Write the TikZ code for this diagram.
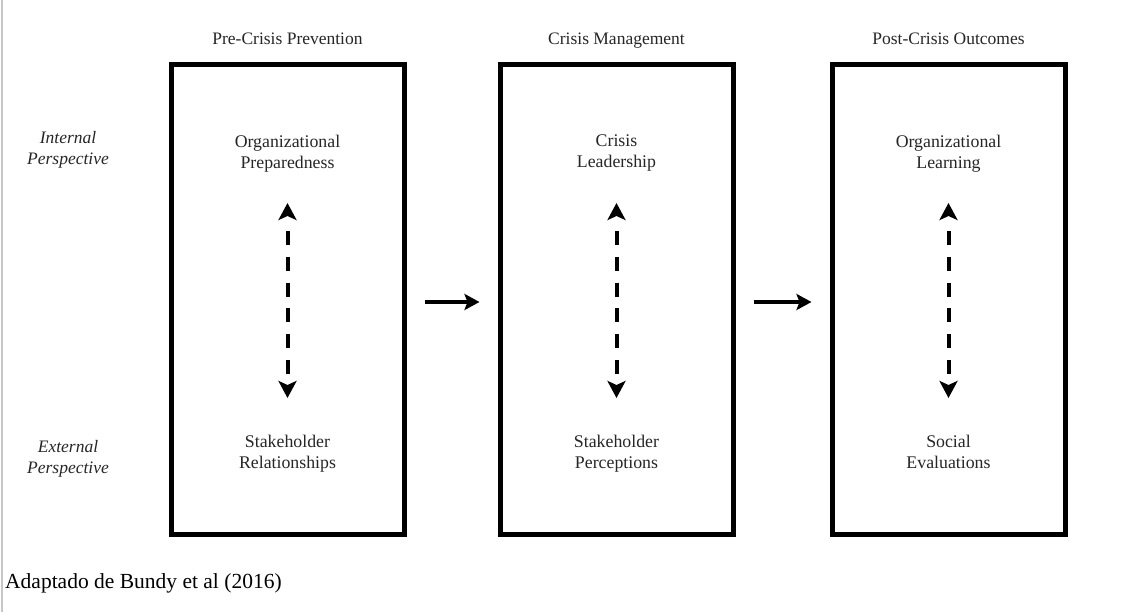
\documentclass[tikz,border=0pt]{standalone}
\usepackage{fontspec}
\setmainfont{Liberation Serif}
\usetikzlibrary{arrows.meta}
\begin{document}
\begin{tikzpicture}[x=1pt,y=-1pt,
  stage/.style={draw=black, line width=5pt, minimum width=233pt, minimum height=470pt, inner sep=0pt},
  heading/.style={font=\fontsize{17.5}{21}\selectfont, text=black!85, anchor=base, inner sep=0pt},
  factor/.style={font=\fontsize{17.8}{21}\selectfont, text=black!85, align=center, anchor=north, inner sep=0pt},
  side/.style={font=\fontsize{17.5}{21}\selectfont\itshape, text=black!85, align=center, anchor=north, inner sep=0pt},
  link/.style={line width=4pt, -{Stealth[length=15pt,width=16pt,inset=3pt]}, shorten <=18pt, shorten >=18pt},
  twoway/.style={line width=4pt,
    dash pattern=on 0pt off 16pt on 14pt off 11.8pt on 14pt off 11.8pt on 14pt off 11.8pt
      on 14pt off 11.8pt on 14pt off 11.8pt on 14pt off 40pt,
    {Stealth[length=17pt,width=18pt,inset=4pt]}-{Stealth[length=17pt,width=18pt,inset=4pt]}}
]
\useasboundingbox (0,0) rectangle (1122,612);
\fill[white] (0,0) rectangle (1122,612);
% page margin rule on the left
\draw[black!22, line width=2pt] (2,0) -- (2,612);

% the three stages
\node[stage] (b1) at (287.5,299.5) {};
\node[stage] (b2) at (616.5,299.5) {};
\node[stage] (b3) at (948.5,299.5) {};

\node[heading] (h1) at (287.5,45) {Pre-Crisis Prevention};
\node[heading] (h2) at (616.5,45) {Crisis Management};
\node[heading] (h3) at (948.5,45) {Post-Crisis Outcomes};

% perspective labels
\node[side] (ip) at (68,131.5) {Internal\\Perspective};
\node[side] (ep) at (68,440) {External\\Perspective};

% factors inside each stage
\node[factor] (o1) at (287.5,135) {Organizational\\Preparedness};
\node[factor] (s1) at (287.5,435) {Stakeholder\\Relationships};
\node[factor] (o2) at (616.5,135) {Crisis\\Leadership};
\node[factor] (s2) at (616.5,435) {Stakeholder\\Perceptions};
\node[factor] (o3) at (948.5,135) {Organizational\\Learning};
\node[factor] (s3) at (948.5,435) {Social\\Evaluations};

% ends of the two-way links
\coordinate (t1) at (287.5,203); \coordinate (u1) at (287.5,398);
\coordinate (t2) at (616.5,203); \coordinate (u2) at (616.5,398);
\coordinate (t3) at (948.5,203); \coordinate (u3) at (948.5,398);

\draw[twoway] (t1) -- (u1);
\draw[twoway] (t2) -- (u2);
\draw[twoway] (t3) -- (u3);

% flow between stages
\draw[link] ([yshift=-2.5pt]b1.east) -- ([yshift=-2.5pt]b2.west);
\draw[link] ([yshift=-2.5pt]b2.east) -- ([yshift=-2.5pt]b3.west);

% source note
\node[anchor=base west, inner sep=0pt, font=\fontsize{21.5}{24}\selectfont] (src) at (5,588) {Adaptado de Bundy et al (2016)};
\end{tikzpicture}
\end{document}
